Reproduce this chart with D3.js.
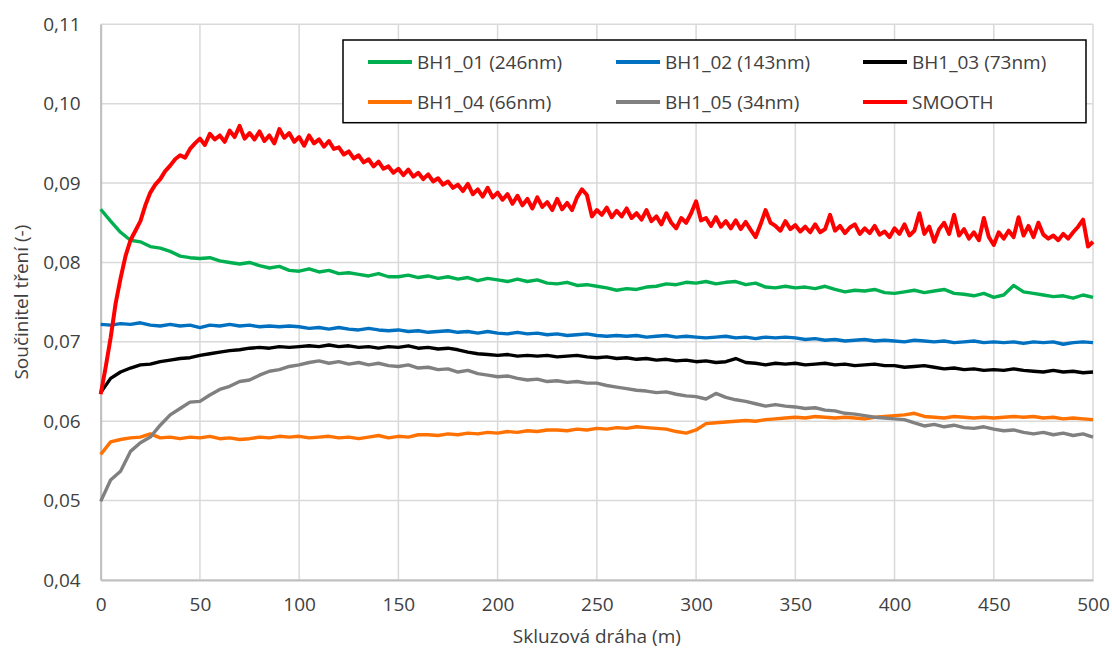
<!DOCTYPE html>
<html><head><meta charset="utf-8">
<script src="https://cdn.jsdelivr.net/npm/d3@7"></script>
<style>body{margin:0;background:#fff}svg{display:block}text{font-family:"Open Sans",sans-serif;fill:#404040}</style>
</head><body><svg id="c" width="1112" height="655"></svg>
<script>
const distance = d3.range(0, 501, 5);
const smoothDistance = d3.range(0, 500.01, 2.5);
const yTicks = [0.04,0.05,0.06,0.07,0.08,0.09,0.10,0.11];
const xTicks = [0,50,100,150,200,250,300,350,400,450,500];
const seriesNames = ["BH1_01 (246nm)","BH1_02 (143nm)","BH1_03 (73nm)","BH1_04 (66nm)","BH1_05 (34nm)","SMOOTH"];
const seriesColors = ["#00B050","#0070C0","#000000","#FF7100","#808080","#FF0000"];

const bh1_01 = [0.0867,0.0852,0.0838,0.0828,0.0826,0.0820,0.0818,0.0814,0.0808,0.0806,0.0805,0.0806,0.0802,0.0800,0.0798,0.0800,0.0796,0.0793,0.0795,0.0790,0.0789,0.0792,0.0788,0.0790,0.0786,0.0787,0.0785,0.0783,0.0786,0.0782,0.0782,0.0784,0.0781,0.0783,0.0780,0.0782,0.0779,0.0781,0.0777,0.0780,0.0778,0.0776,0.0779,0.0776,0.0778,0.0774,0.0773,0.0775,0.0771,0.0772,0.0770,0.0768,0.0765,0.0767,0.0766,0.0769,0.0770,0.0773,0.0772,0.0775,0.0774,0.0776,0.0773,0.0775,0.0776,0.0772,0.0774,0.0769,0.0768,0.0770,0.0768,0.0769,0.0767,0.0770,0.0766,0.0763,0.0765,0.0764,0.0766,0.0762,0.0761,0.0763,0.0765,0.0762,0.0764,0.0766,0.0761,0.0760,0.0758,0.0761,0.0756,0.0759,0.0771,0.0763,0.0761,0.0759,0.0757,0.0758,0.0755,0.0759,0.0756];
const bh1_02 = [0.0722,0.0721,0.0723,0.0722,0.0724,0.0721,0.0720,0.0722,0.0720,0.0721,0.0718,0.0721,0.0720,0.0722,0.0720,0.0721,0.0719,0.0720,0.0719,0.0720,0.0719,0.0717,0.0718,0.0716,0.0718,0.0716,0.0715,0.0717,0.0715,0.0714,0.0715,0.0713,0.0714,0.0712,0.0713,0.0714,0.0712,0.0713,0.0711,0.0713,0.0711,0.0710,0.0712,0.0710,0.0711,0.0709,0.0710,0.0708,0.0709,0.0710,0.0708,0.0707,0.0708,0.0707,0.0708,0.0706,0.0707,0.0708,0.0706,0.0707,0.0706,0.0705,0.0706,0.0707,0.0705,0.0706,0.0704,0.0706,0.0705,0.0706,0.0705,0.0703,0.0704,0.0702,0.0703,0.0701,0.0702,0.0703,0.0701,0.0702,0.0701,0.0700,0.0702,0.0701,0.0700,0.0701,0.0699,0.0700,0.0701,0.0699,0.0700,0.0699,0.0700,0.0698,0.0700,0.0699,0.0700,0.0697,0.0699,0.0700,0.0699];
const bh1_03 = [0.0636,0.0654,0.0662,0.0667,0.0671,0.0672,0.0675,0.0677,0.0679,0.0680,0.0683,0.0685,0.0687,0.0689,0.0690,0.0692,0.0693,0.0692,0.0694,0.0693,0.0694,0.0695,0.0694,0.0696,0.0694,0.0695,0.0693,0.0694,0.0692,0.0694,0.0693,0.0695,0.0692,0.0693,0.0691,0.0692,0.0690,0.0687,0.0685,0.0684,0.0683,0.0684,0.0682,0.0683,0.0682,0.0683,0.0681,0.0682,0.0683,0.0681,0.0680,0.0681,0.0679,0.0680,0.0678,0.0679,0.0677,0.0678,0.0676,0.0677,0.0675,0.0676,0.0674,0.0675,0.0679,0.0674,0.0673,0.0671,0.0673,0.0672,0.0673,0.0671,0.0672,0.0673,0.0671,0.0672,0.0670,0.0671,0.0672,0.0670,0.0670,0.0668,0.0669,0.0670,0.0668,0.0666,0.0667,0.0665,0.0666,0.0664,0.0665,0.0664,0.0666,0.0664,0.0663,0.0662,0.0664,0.0662,0.0663,0.0661,0.0662];
const bh1_04 = [0.0558,0.0574,0.0577,0.0579,0.0580,0.0584,0.0579,0.0580,0.0578,0.0580,0.0579,0.0581,0.0578,0.0579,0.0577,0.0578,0.0580,0.0579,0.0581,0.0580,0.0581,0.0579,0.0580,0.0581,0.0579,0.0580,0.0578,0.0580,0.0582,0.0579,0.0581,0.0580,0.0583,0.0583,0.0582,0.0584,0.0583,0.0585,0.0584,0.0586,0.0585,0.0587,0.0586,0.0588,0.0587,0.0589,0.0589,0.0588,0.0590,0.0589,0.0591,0.0590,0.0592,0.0591,0.0593,0.0592,0.0591,0.0590,0.0587,0.0585,0.0589,0.0597,0.0598,0.0599,0.0600,0.0601,0.0600,0.0602,0.0603,0.0604,0.0605,0.0604,0.0606,0.0605,0.0604,0.0605,0.0604,0.0603,0.0605,0.0606,0.0607,0.0608,0.0610,0.0606,0.0605,0.0604,0.0606,0.0605,0.0604,0.0605,0.0604,0.0605,0.0606,0.0605,0.0606,0.0604,0.0605,0.0603,0.0604,0.0603,0.0602];
const bh1_05 = [0.0499,0.0526,0.0537,0.0562,0.0573,0.0580,0.0595,0.0608,0.0616,0.0624,0.0625,0.0633,0.0640,0.0644,0.0650,0.0652,0.0658,0.0663,0.0665,0.0669,0.0671,0.0674,0.0676,0.0673,0.0675,0.0672,0.0674,0.0671,0.0673,0.0670,0.0669,0.0671,0.0667,0.0668,0.0665,0.0666,0.0662,0.0664,0.0660,0.0658,0.0656,0.0657,0.0654,0.0652,0.0653,0.0650,0.0651,0.0649,0.0650,0.0648,0.0648,0.0645,0.0643,0.0641,0.0639,0.0638,0.0636,0.0637,0.0634,0.0632,0.0631,0.0628,0.0635,0.0630,0.0627,0.0625,0.0622,0.0619,0.0621,0.0619,0.0618,0.0616,0.0617,0.0614,0.0613,0.0610,0.0609,0.0607,0.0605,0.0604,0.0603,0.0602,0.0598,0.0594,0.0596,0.0593,0.0595,0.0592,0.0591,0.0593,0.0590,0.0588,0.0589,0.0586,0.0584,0.0586,0.0583,0.0585,0.0582,0.0584,0.0580];
const smooth = [0.0634,0.0668,0.0705,0.0748,0.0780,0.0808,0.0828,0.0840,0.0852,0.0872,0.0888,0.0898,0.0905,0.0915,0.0922,0.0930,0.0935,0.0932,0.0943,0.0950,
0.0956,0.0948,0.0962,0.0955,0.0960,0.0952,0.0966,0.0958,0.0972,0.0956,0.0963,0.0955,0.0965,0.0953,0.0960,0.0950,0.0968,0.0957,0.0963,0.0952,
0.0958,0.0947,0.0960,0.0950,0.0955,0.0946,0.0953,0.0943,0.0945,0.0936,0.0940,0.0931,0.0935,0.0926,0.0930,0.0921,0.0927,0.0918,0.0921,0.0913,
0.0918,0.0910,0.0917,0.0908,0.0913,0.0905,0.0911,0.0902,0.0906,0.0898,0.0902,0.0894,0.0898,0.0890,0.0899,0.0886,0.0892,0.0883,0.0894,0.0882,
0.0888,0.0879,0.0886,0.0874,0.0884,0.0872,0.0880,0.0868,0.0882,0.0870,0.0876,0.0866,0.0880,0.0867,0.0875,0.0866,0.0882,0.0892,0.0885,0.0858,
0.0866,0.0860,0.0869,0.0857,0.0865,0.0858,0.0868,0.0856,0.0862,0.0854,0.0866,0.0852,0.0858,0.0848,0.0862,0.0850,0.0843,0.0856,0.0850,0.0862,
0.0877,0.0853,0.0856,0.0846,0.0857,0.0845,0.0852,0.0843,0.0853,0.0842,0.0851,0.0841,0.0832,0.0848,0.0866,0.0850,0.0846,0.0840,0.0852,0.0842,
0.0847,0.0839,0.0845,0.0838,0.0848,0.0838,0.0842,0.0860,0.0840,0.0846,0.0837,0.0844,0.0848,0.0836,0.0843,0.0837,0.0846,0.0835,0.0839,0.0832,
0.0843,0.0836,0.0848,0.0834,0.0840,0.0862,0.0836,0.0845,0.0826,0.0842,0.0850,0.0836,0.0860,0.0834,0.0842,0.0830,0.0838,0.0828,0.0856,0.0832,
0.0822,0.0838,0.0830,0.0840,0.0832,0.0857,0.0834,0.0846,0.0832,0.0850,0.0835,0.0830,0.0834,0.0828,0.0836,0.0830,0.0838,0.0845,0.0854,0.0820,
0.0826];

const allSeries = [
  {v: bh1_01, xs: distance}, {v: bh1_02, xs: distance}, {v: bh1_03, xs: distance},
  {v: bh1_04, xs: distance}, {v: bh1_05, xs: distance}, {v: smooth, xs: smoothDistance}
];

const svg = d3.select("#c");
const L = 100.7, R = 1093, T = 24.3, B = 580;
const x = d3.scaleLinear().domain([0,500]).range([L,R]);
const y = d3.scaleLinear().domain([0.04,0.11]).range([B,T]);
const fmt = d => d3.format(".2f")(d).replace(".", ",");
const FS = 19;

svg.append("g").selectAll("line").data(yTicks).join("line")
  .attr("x1",L).attr("x2",R).attr("y1",d=>y(d)).attr("y2",d=>y(d))
  .attr("stroke","#D9D9D9").attr("stroke-width",1.5);
svg.append("g").selectAll("line").data(xTicks).join("line")
  .attr("x1",d=>x(d)).attr("x2",d=>x(d)).attr("y1",T).attr("y2",B)
  .attr("stroke","#D9D9D9").attr("stroke-width",1.5);

const yAxis = svg.append("g").attr("transform",`translate(${L},0)`)
  .call(d3.axisLeft(y).tickValues(yTicks).tickFormat(fmt).tickSize(0).tickPadding(20));
const xAxis = svg.append("g").attr("transform",`translate(0,${B})`)
  .call(d3.axisBottom(x).tickValues(xTicks).tickSize(0).tickPadding(18));
[yAxis,xAxis].forEach(g=>{
  g.select(".domain").attr("stroke","#BFBFBF").attr("stroke-width",2);
  g.selectAll("text").attr("font-size",FS).attr("fill","#404040").style("font-family","'Open Sans',sans-serif");
});

svg.append("g").selectAll("path").data(allSeries).join("path")
  .attr("d",s => d3.line().x((d,i)=>x(s.xs[i])).y(d=>y(d))(s.v.slice(0, s.xs.length)))
  .attr("fill","none")
  .attr("stroke",(d,i)=>seriesColors[i])
  .attr("stroke-width",(d,i)=>i===5?4:3.4)
  .attr("stroke-linejoin","round");

svg.append("text").attr("x",(L+R)/2).attr("y",643).attr("text-anchor","middle")
  .attr("font-size",FS).text("Skluzová dráha (m)");
svg.append("text").attr("transform",`translate(28,${(T+B)/2}) rotate(-90)`).attr("text-anchor","middle")
  .attr("font-size",FS).text("Součinitel tření (-)");

const lg = svg.append("g");
lg.append("rect").attr("x",343).attr("y",40).attr("width",743).attr("height",82.7)
  .attr("fill","#fff").attr("stroke","#000").attr("stroke-width",1.5);
const colX = [368,616,863], rowY = [62,102];
seriesNames.forEach((n,i)=>{
  const cx = colX[i%3], cy = rowY[Math.floor(i/3)];
  lg.append("line").attr("x1",cx).attr("x2",cx+44).attr("y1",cy).attr("y2",cy)
    .attr("stroke",seriesColors[i]).attr("stroke-width",4);
  lg.append("text").attr("x",cx+49).attr("y",cy).attr("dy","0.35em")
    .attr("font-size",FS).text(n);
});
</script></body></html>
